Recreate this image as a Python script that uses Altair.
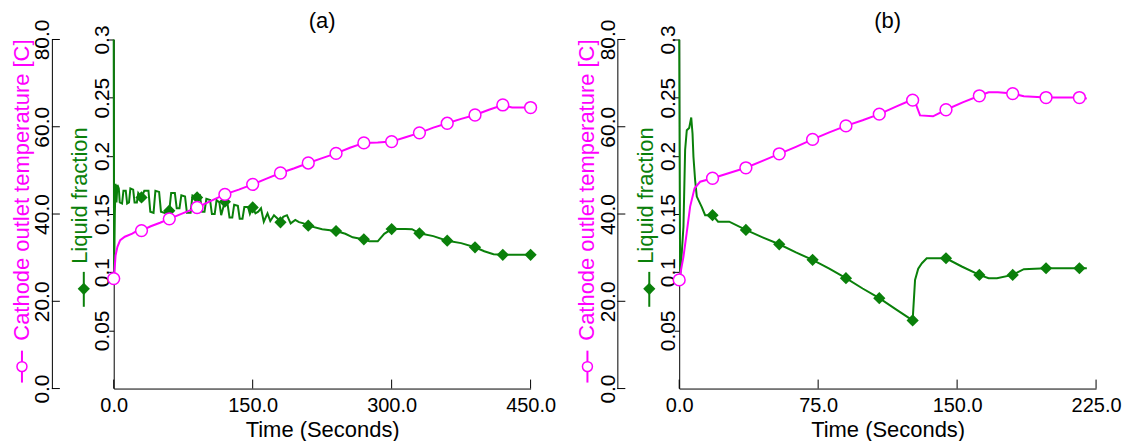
import altair as alt
import pandas as pd

# ---------------- data: panel (a) ----------------
a_temp_t = [0, 1, 2, 4, 7, 12, 20, 24, 30, 40, 50, 60, 75, 90, 105, 120, 135, 150, 165, 180,
            195, 210, 225, 240, 255, 270, 285, 300, 315, 330, 345, 360, 375, 390, 405, 420, 430, 450]
a_temp_v = [25.2, 27.5, 30.5, 32.5, 34.0, 34.8, 35.5, 36.0, 36.2, 37.2, 38.0, 38.9, 40.2, 41.5, 43.0,
            44.5, 45.6, 46.8, 48.1, 49.4, 50.5, 51.7, 52.8, 53.9, 55.2, 56.3, 56.4, 56.6, 57.6, 58.6,
            59.8, 60.8, 61.8, 62.7, 63.9, 65.0, 64.4, 64.4]
a_temp_mark_t = [0, 30, 60, 90, 120, 150, 180, 210, 240, 270, 300, 330, 360, 390, 420, 450]
a_temp_mark_v = [25.2, 36.2, 38.9, 41.5, 44.5, 46.8, 49.4, 51.7, 53.9, 56.3, 56.6, 58.6, 60.8, 62.7, 65.0, 64.4]

a_lf_t = [0, 0.4, 1.2, 2.0, 3.0, 4.0, 5.5, 6.5, 9.0, 10.5, 13.0, 14.5, 16.5, 18.0, 21.0, 22.5, 25.0,
          26.5, 30.0, 33.0, 37.5, 39.5, 43.0, 45.0, 49.0, 51.0, 55.0, 60.0, 62.0, 66.0, 68.0, 71.0,
          73.0, 77.0, 79.0, 83.0, 85.0, 90.0, 93.0, 95.5, 98.0, 100.0, 104.0, 106.0, 109.0, 111.0,
          114.0, 116.0, 118.0, 120.0, 123.0, 125.0, 128.0, 130.0, 134.0, 136.0, 139.0, 141.0, 145.0,
          147.0, 150.0, 153.0, 156.0, 159.0, 162.0, 166.0, 169.0, 173.0, 177.0, 180.0, 183.0, 187.0,
          191.0, 196.0, 200.0, 205.0, 210.0, 225.0, 240.0, 250.0, 258.0, 265.0, 270.0, 276.0, 285.0,
          292.0, 300.0, 315.0, 322.0, 330.0, 345.0, 360.0, 375.0, 390.0, 400.0, 410.0, 420.0, 432.0, 450.0]
a_lf_v = [0.300, 0.095, 0.150, 0.176, 0.160, 0.175, 0.172, 0.160, 0.159, 0.170, 0.170, 0.159, 0.160,
          0.172, 0.171, 0.160, 0.160, 0.168, 0.1643, 0.170, 0.170, 0.152, 0.151, 0.170, 0.169, 0.152,
          0.151, 0.1529, 0.168, 0.168, 0.155, 0.155, 0.166, 0.165, 0.151, 0.151, 0.166, 0.1643, 0.166,
          0.152, 0.152, 0.163, 0.162, 0.150, 0.150, 0.162, 0.160, 0.149, 0.155, 0.1606, 0.158, 0.147,
          0.147, 0.158, 0.157, 0.146, 0.146, 0.156, 0.156, 0.150, 0.1557, 0.1506, 0.152, 0.155, 0.1434,
          0.1506, 0.144, 0.149, 0.146, 0.1429, 0.1477, 0.149, 0.142, 0.145, 0.143, 0.142, 0.140, 0.1369,
          0.1354, 0.133, 0.130, 0.129, 0.1283, 0.1265, 0.1265, 0.133, 0.1371, 0.1371, 0.137, 0.1334,
          0.131, 0.1271, 0.125, 0.1214, 0.118, 0.1155, 0.1149, 0.1149, 0.1149]
a_lf_mark_t = [30, 60, 90, 120, 150, 180, 210, 240, 270, 300, 330, 360, 390, 420, 450]
a_lf_mark_v = [0.1643, 0.1529, 0.1643, 0.1606, 0.1557, 0.1429, 0.140, 0.1354, 0.1283, 0.1371,
               0.1334, 0.1271, 0.1214, 0.1149, 0.1149]

# ---------------- data: panel (b) ----------------
b_temp_t = [0, 2.3, 4, 5.9, 8.3, 11.3, 18, 27, 36, 45, 54, 63, 72, 81, 90, 99, 108, 117, 124, 126,
            128, 130, 137, 144, 153, 162, 167, 172, 180, 186, 198, 216, 220]
b_temp_v = [24.9, 30.2, 35.5, 41.7, 45.9, 47.4, 48.2, 49.4, 50.6, 52.2, 53.8, 55.4, 57.1, 58.7, 60.2,
            61.5, 62.9, 64.6, 65.9, 66.1, 64.9, 62.6, 62.4, 63.9, 65.6, 67.1, 67.9, 67.9, 67.6, 67.0,
            66.7, 66.7, 66.5]
b_temp_mark_t = [0, 18, 36, 54, 72, 90, 108, 126, 144, 162, 180, 198, 216]
b_temp_mark_v = [24.9, 48.2, 50.6, 53.8, 57.1, 60.2, 62.9, 66.1, 63.9, 67.1, 67.6, 66.7, 66.7]

b_lf_t = [0, 0.5, 2.3, 3.2, 4.1, 5.4, 6.5, 7.2, 7.7, 8.6, 9.5, 12.2, 14, 18, 21, 27, 36, 45, 54, 63,
          72, 81, 90, 99, 108, 117, 126, 127.3, 129, 131, 133.6, 144, 152.5, 162, 167, 171.5, 180,
          186, 198, 216, 220]
b_lf_v = [0.300, 0.095, 0.139, 0.205, 0.222, 0.224, 0.233, 0.219, 0.199, 0.179, 0.165, 0.156, 0.149,
          0.149, 0.1434, 0.1434, 0.1363, 0.130, 0.124, 0.117, 0.1106, 0.103, 0.0949, 0.086, 0.0777,
          0.068, 0.0586, 0.0934, 0.103, 0.1077, 0.112, 0.112, 0.1049, 0.0977, 0.0949, 0.0949, 0.0977,
          0.1026, 0.1034, 0.1034, 0.1034]
b_lf_mark_t = [18, 36, 54, 72, 90, 108, 126, 144, 162, 180, 198, 216]
b_lf_mark_v = [0.149, 0.1363, 0.124, 0.1106, 0.0949, 0.0777, 0.0586, 0.112, 0.0977, 0.0977, 0.1034, 0.1034]

# ---------------- labels / ticks ----------------
panel_titles = ["(a)", "(b)"]
x_ticks_a = [0, 150, 300, 450]
x_ticks_b = [0, 75, 150, 225]
temp_ticks = [0, 20, 40, 60, 80]
lf_ticks = [0.05, 0.1, 0.15, 0.2, 0.25, 0.3]
x_title = "Time (Seconds)"
temp_title = "Cathode outlet temperature [C]"
lf_title = "Liquid fraction"

MAG = "#FF00FF"
GRN = "#0a800a"
FONT = "Liberation Sans"
W, H = 418, 350


def panel(title, tt, tv, tmt, tmv, lt, lv, lmt, lmv, xmax, xticks):
    xscale = alt.Scale(domain=[0, xmax], nice=False, zero=False)
    tscale = alt.Scale(domain=[0, 80], nice=False)
    lscale = alt.Scale(domain=[0, 0.3], nice=False)

    xaxis = alt.Axis(values=xticks, format=".1f", title=x_title, ticks=False, tickSize=0,
                     grid=False, labelFontSize=20, labelPadding=23, labelBaseline="alphabetic",
                     labelColor="black", domainColor="black", labelFlush=False,
                     titleFontSize=22, titleFontWeight="normal", titleColor="black",
                     titleY=48, titleBaseline="alphabetic")
    taxis = alt.Axis(orient="left", offset=62, values=temp_ticks, format=".1f", ticks=False,
                     tickSize=0, grid=False, labelAngle=270, labelAlign="center",
                     labelBaseline="alphabetic", labelPadding=3, labelFontSize=21,
                     labelColor="black", domainColor="black", labelFlush=False,
                     title=temp_title, titleColor=MAG, titleFontSize=22, titleFontWeight="normal",
                     titleAngle=270, titleAlign="center", titleBaseline="alphabetic",
                     titleX=-23.5, titleY=150.5)
    laxis = alt.Axis(orient="left", offset=0, values=lf_ticks, format=".2~f", tickSize=5,
                     tickColor="black", grid=False, labelAngle=270, labelAlign="center",
                     labelBaseline="alphabetic", labelPadding=0, labelFontSize=21,
                     labelColor="black", domainColor="black", labelFlush=False,
                     title=lf_title, titleColor=GRN, titleFontSize=22, titleFontWeight="normal",
                     titleAngle=270, titleAlign="center", titleBaseline="alphabetic",
                     titleX=-27, titleY=156)

    X = alt.X("t:Q", scale=xscale, axis=xaxis)
    one = pd.DataFrame({"k": [0]})

    lf_line = alt.Chart(pd.DataFrame({"t": lt, "v": lv})).mark_line(
        color=GRN, strokeWidth=2).encode(
        x=X, y=alt.Y("v:Q", scale=lscale, axis=laxis))
    lf_pts = alt.Chart(pd.DataFrame({"t": lmt, "v": lmv})).mark_point(
        shape="diamond", filled=True, fill=GRN, color=GRN, size=150, opacity=1).encode(
        x=X, y=alt.Y("v:Q", scale=lscale, axis=None))
    lf_leg_rule = alt.Chart(one).mark_rule(color=GRN, strokeWidth=2).encode(
        x=alt.value(-30), y=alt.value(233), y2=alt.value(268))
    lf_leg_pt = alt.Chart(one).mark_point(
        shape="diamond", filled=True, fill=GRN, color=GRN, size=150, opacity=1).encode(
        x=alt.value(-30), y=alt.value(250))
    x_tick_rules = alt.Chart(pd.DataFrame({"t": xticks})).mark_rule(
        color="black", strokeWidth=1).encode(
        x=X, y=alt.value(H - 9), y2=alt.value(H))
    title_txt = alt.Chart(pd.DataFrame({"label": [title]})).mark_text(
        fontSize=22, color="black", baseline="middle", align="center").encode(
        text="label:N", x=alt.value(W / 2), y=alt.value(-19))
    # invisible anchor fixing the left edge of the drawing
    anchor = alt.Chart(one).mark_rule(color="white", strokeOpacity=0, strokeWidth=1).encode(
        x=alt.value(-105.8), y=alt.value(0), y2=alt.value(1))

    t_line = alt.Chart(pd.DataFrame({"t": tt, "T": tv})).mark_line(
        color=MAG, strokeWidth=2).encode(
        x=X, y=alt.Y("T:Q", scale=tscale, axis=taxis))
    t_pts = alt.Chart(pd.DataFrame({"t": tmt, "T": tmv})).mark_point(
        shape="circle", filled=True, fill="white", stroke=MAG, strokeWidth=1.5, size=140,
        opacity=1).encode(
        x=X, y=alt.Y("T:Q", scale=tscale, axis=None))
    t_tick_rules = alt.Chart(pd.DataFrame({"T": temp_ticks})).mark_rule(
        color="black", strokeWidth=1).encode(
        y=alt.Y("T:Q", scale=tscale, axis=None), x=alt.value(-62), x2=alt.value(-54))
    t_leg_rule = alt.Chart(one).mark_rule(color=MAG, strokeWidth=2).encode(
        x=alt.value(-92), y=alt.value(312), y2=alt.value(344))
    t_leg_pt = alt.Chart(one).mark_point(
        shape="circle", filled=True, fill="white", stroke=MAG, strokeWidth=1.5, size=100,
        opacity=1).encode(x=alt.value(-92), y=alt.value(328))

    return alt.layer(
        lf_line, t_line, lf_pts, t_pts, t_tick_rules, x_tick_rules,
        lf_leg_rule, lf_leg_pt, t_leg_rule, t_leg_pt, title_txt, anchor
    ).resolve_scale(y="independent").properties(width=W, height=H)


pa = panel(panel_titles[0], a_temp_t, a_temp_v, a_temp_mark_t, a_temp_mark_v,
           a_lf_t, a_lf_v, a_lf_mark_t, a_lf_mark_v, 450, x_ticks_a)
pb = panel(panel_titles[1], b_temp_t, b_temp_v, b_temp_mark_t, b_temp_mark_v,
           b_lf_t, b_lf_v, b_lf_mark_t, b_lf_mark_v, 225, x_ticks_b)

chart = alt.hconcat(pa, pb, spacing=149, bounds="flush").properties(
    padding={"left": 0, "top": 1, "right": 0, "bottom": 0}
).configure(font=FONT).configure_view(strokeWidth=0)

chart.save("out.html", embed_options={"renderer": "svg", "actions": False})
